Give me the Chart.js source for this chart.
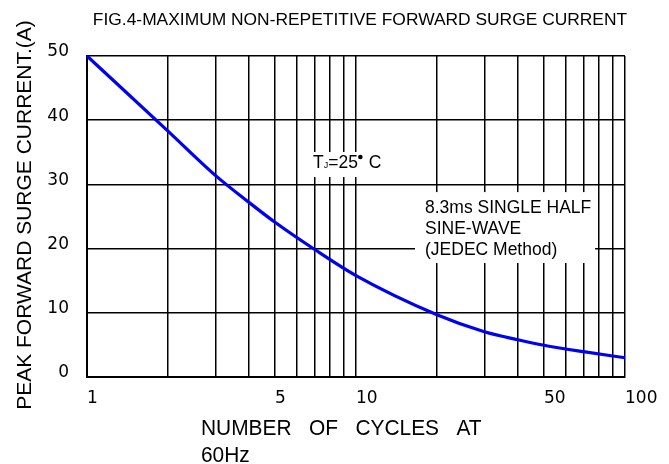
<!DOCTYPE html>
<html>
<head>
<meta charset="utf-8">
<script src="https://cdn.jsdelivr.net/npm/chart.js@4.4.0/dist/chart.umd.min.js"></script>
<style>
  html, body { margin: 0; padding: 0; background: #fff; }
  #chart { display: block; }
</style>
</head>
<body>
<canvas id="chart" width="669" height="464"></canvas>
<script>
// values
const cycles = [1, 2, 3, 4, 5, 7, 10, 20, 30, 40, 50, 70, 100];
const surgeAmps = [50, 38.3, 31.4, 27.2, 24.1, 19.9, 15.8, 9.7, 7.05, 5.8, 4.95, 3.95, 3.0];

const xGridValues = [1, 2, 3, 4, 5, 6, 7, 8, 9, 10, 20, 30, 40, 50, 60, 70, 80, 90, 100];
const xLabelValues = [1, 5, 10, 50, 100];
const yTickValues = [0, 10, 20, 30, 40, 50];

const titleText = 'FIG.4-MAXIMUM NON-REPETITIVE FORWARD SURGE CURRENT';
const yTitle = 'PEAK FORWARD SURGE CURRENT.(A)';
const xTitleLines = ['NUMBER   OF   CYCLES   AT', '60Hz'];
const waveNoteLines = ['8.3ms SINGLE HALF', 'SINE-WAVE', '(JEDEC Method)'];

// note boxes in data units (x cycles, y amps)
const tjNote = { box: [6.46, 12.5, 35.05, 31.15], at: [6.92, 32.55] };
const waveNote = { box: [16.57, 77.4, 28.8, 17.76], x: 18.05, rows: [25.55, 22.27, 19.0] };

const ink = '#000';
const noteFont = '17.5px "Liberation Sans", Arial, sans-serif';

function stretchedText(ctx, text, x, y, font, sx, align) {
    ctx.save();
    ctx.font = font;
    ctx.textAlign = align;
    ctx.translate(x, y);
    ctx.scale(sx, 1);
    ctx.fillText(text, 0, 0);
    ctx.restore();
}

const decor = {
    id: 'decor',
    beforeDatasetsDraw(chart) {
        const { ctx, scales: { x, y } } = chart;
        ctx.save();
        ctx.fillStyle = '#fff';
        [tjNote, waveNote].forEach(n => {
            const l = x.getPixelForValue(n.box[0]);
            const r = x.getPixelForValue(n.box[1]);
            const t = y.getPixelForValue(n.box[2]);
            const b = y.getPixelForValue(n.box[3]);
            ctx.fillRect(l, t, r - l, b - t);
        });

        ctx.fillStyle = ink;
        ctx.textBaseline = 'alphabetic';
        ctx.textAlign = 'left';

        // TJ=25°C
        let px = x.getPixelForValue(tjNote.at[0]);
        const py = y.getPixelForValue(tjNote.at[1]);
        ctx.font = noteFont;
        ctx.fillText('T', px, py);
        px += ctx.measureText('T').width;
        ctx.font = '9px "Liberation Sans", Arial, sans-serif';
        ctx.fillText('J', px, py);
        px += ctx.measureText('J').width;
        ctx.font = noteFont;
        ctx.fillText('=25', px, py);
        px += ctx.measureText('=25').width;
        ctx.beginPath();
        ctx.arc(px + 2.5, py - 11, 2.3, 0, Math.PI * 2);
        ctx.fill();
        px += 6;
        ctx.fillText(' C', px, py);

        // wave note
        ctx.font = noteFont;
        const wx = x.getPixelForValue(waveNote.x);
        waveNoteLines.forEach((line, i) => {
            ctx.fillText(line, wx, y.getPixelForValue(waveNote.rows[i]));
        });
        ctx.restore();
    },
    afterDraw(chart) {
        const { ctx, chartArea } = chart;
        ctx.save();
        ctx.fillStyle = ink;
        ctx.textBaseline = 'alphabetic';

        stretchedText(ctx, titleText, 360, 25, '17.4px "Liberation Sans", Arial, sans-serif', 1, 'center');

        ctx.save();
        ctx.translate(25, 215);
        ctx.rotate(-Math.PI / 2);
        ctx.font = '21px "Liberation Sans", Arial, sans-serif';
        ctx.textAlign = 'center';
        ctx.textBaseline = 'middle';
        ctx.fillText(yTitle, 0, 0);
        ctx.restore();

        const xt = chartArea.left + 114;
        const xFont = '22px "Liberation Sans", Arial, sans-serif';
        stretchedText(ctx, xTitleLines[0], xt, chartArea.bottom + 58, xFont, 0.95, 'left');
        stretchedText(ctx, xTitleLines[1], xt, chartArea.bottom + 85, xFont, 0.95, 'left');
        ctx.restore();
    }
};

new Chart(document.getElementById('chart').getContext('2d'), {
    type: 'line',
    data: {
        datasets: [{
            data: cycles.map((c, i) => ({ x: c, y: surgeAmps[i] })),
            borderColor: '#0000f2',
            borderWidth: 3.2,
            pointRadius: 0,
            cubicInterpolationMode: 'monotone',
            fill: false,
            clip: false
        }]
    },
    options: {
        responsive: false,
        animation: false,
        devicePixelRatio: 1,
        layout: { padding: { top: 56, right: 44, left: 0, bottom: 0 } },
        scales: {
            x: {
                type: 'logarithmic',
                min: 1,
                max: 100,
                afterBuildTicks: scale => {
                    scale.ticks = xGridValues.map(v => ({ value: v }));
                },
                afterFit: scale => { scale.height = 87; },
                grid: { color: ink, lineWidth: 1.5, drawTicks: false },
                border: { color: ink, width: 2 },
                ticks: {
                    autoSkip: false,
                    maxRotation: 0,
                    align: 'start',
                    padding: 11,
                    color: ink,
                    font: { family: '"DejaVu Sans", sans-serif', size: 17 },
                    callback: v => xLabelValues.includes(v) ? String(v) : ''
                }
            },
            y: {
                type: 'linear',
                min: 0,
                max: 50,
                afterBuildTicks: scale => {
                    scale.ticks = yTickValues.map(v => ({ value: v }));
                },
                afterFit: scale => { scale.width = 87; },
                grid: { color: ink, lineWidth: 1.5, drawTicks: false },
                border: { color: ink, width: 2 },
                ticks: {
                    padding: 18,
                    labelOffset: -4,
                    color: ink,
                    font: { family: '"DejaVu Sans", sans-serif', size: 17 }
                }
            }
        },
        plugins: {
            legend: { display: false },
            tooltip: { enabled: false },
            title: { display: false }
        }
    },
    plugins: [decor]
});
</script>
</body>
</html>
